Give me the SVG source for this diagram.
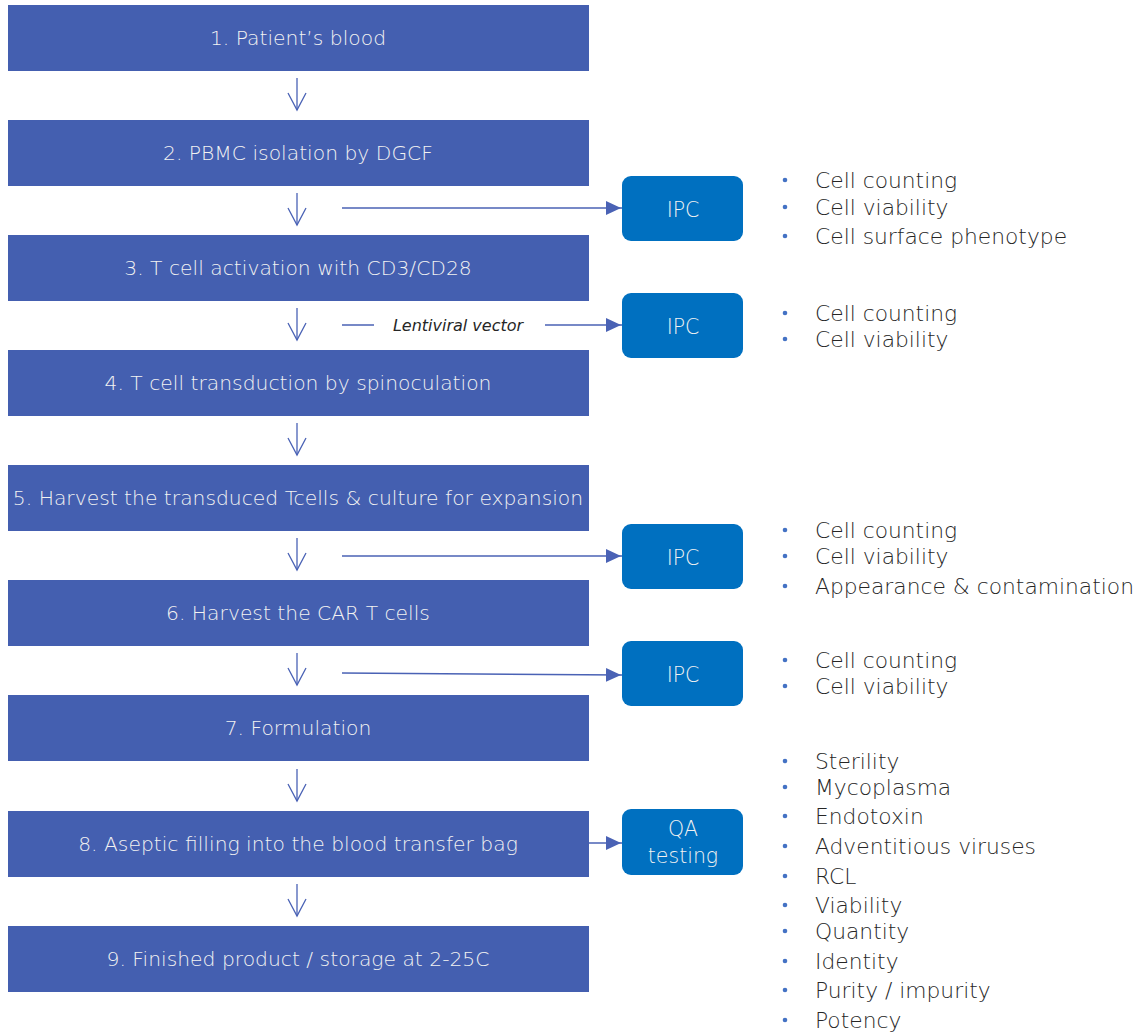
<svg xmlns="http://www.w3.org/2000/svg" width="1139" height="1032" viewBox="0 0 1139 1032">
<defs>
<marker id="open" viewBox="0 0 24 20" refX="20" refY="10" markerWidth="24" markerHeight="20" markerUnits="userSpaceOnUse" orient="auto">
<path d="M3,1 L20,10 L3,19" fill="none" stroke="#4A62B5" stroke-width="1.3"/>
</marker>
<marker id="tri" viewBox="0 0 16 16" refX="16" refY="8" markerWidth="16" markerHeight="16" markerUnits="userSpaceOnUse" orient="auto">
<path d="M0,1 L15,8 L0,15 Z" fill="#4A62B5"/>
</marker>
</defs>
<style>
.step{fill:#445FB0}
.steptxt{font-family:"DejaVu Sans",sans-serif;font-weight:200;font-size:20.3px;fill:#F2F2F2;text-anchor:middle;dominant-baseline:central}
.ipc{fill:#0070C0}
.ipctxt{font-family:"DejaVu Sans",sans-serif;font-weight:200;font-size:20.5px;fill:#F2F2F2;text-anchor:middle;dominant-baseline:central}
.conn{stroke:#4A62B5;stroke-width:1.5;fill:none}
.down{stroke:#4A62B5;stroke-width:1.3;fill:none}
.bul{fill:#4472C4}
.li{font-family:"DejaVu Sans",sans-serif;font-weight:200;font-size:21.8px;fill:#262626;dominant-baseline:central}
.lab{font-family:"DejaVu Sans",sans-serif;font-weight:200;font-size:16px;font-style:italic;fill:#262626;text-anchor:middle;dominant-baseline:central}
</style>
<g id="step1"><rect class="step" x="8" y="5" width="581" height="66"/><text class="steptxt" x="298" y="38">1. Patient’s blood</text></g>
<g id="step2"><rect class="step" x="8" y="120" width="581" height="66"/><text class="steptxt" x="298" y="153">2. PBMC isolation by DGCF</text></g>
<g id="step3"><rect class="step" x="8" y="235" width="581" height="66"/><text class="steptxt" x="298" y="268">3. T cell activation with CD3/CD28</text></g>
<g id="step4"><rect class="step" x="8" y="350" width="581" height="66"/><text class="steptxt" x="298" y="383">4. T cell transduction by spinoculation</text></g>
<g id="step5"><rect class="step" x="8" y="465" width="581" height="66"/><text class="steptxt" x="298" y="498">5. Harvest the transduced Tcells &amp; culture for expansion</text></g>
<g id="step6"><rect class="step" x="8" y="580" width="581" height="66"/><text class="steptxt" x="298" y="613">6. Harvest the CAR T cells</text></g>
<g id="step7"><rect class="step" x="8" y="695" width="581" height="66"/><text class="steptxt" x="298" y="728">7. Formulation</text></g>
<g id="step8"><rect class="step" x="8" y="811" width="581" height="66"/><text class="steptxt" x="298" y="844">8. Aseptic filling into the blood transfer bag</text></g>
<g id="step9"><rect class="step" x="8" y="926" width="581" height="66"/><text class="steptxt" x="298" y="959">9. Finished product / storage at 2-25C</text></g>

<g id="ipc1"><rect class="ipc" x="622" y="176" width="121" height="65" rx="9"/><text class="ipctxt" x="683" y="210">IPC</text></g>
<g id="ipc2"><rect class="ipc" x="622" y="293" width="121" height="65" rx="9"/><text class="ipctxt" x="683" y="327">IPC</text></g>
<g id="ipc3"><rect class="ipc" x="622" y="524" width="121" height="65" rx="9"/><text class="ipctxt" x="683" y="558">IPC</text></g>
<g id="ipc4"><rect class="ipc" x="622" y="641" width="121" height="65" rx="9"/><text class="ipctxt" x="683" y="675">IPC</text></g>
<g id="qa"><rect class="ipc" x="622" y="809" width="121" height="66" rx="9"/><text class="ipctxt" x="683" y="829">QA</text><text class="ipctxt" x="683" y="856">testing</text></g>

<g id="connectors">
<line class="down" x1="297" y1="78" x2="297" y2="110" marker-end="url(#open)"/>
<line class="down" x1="297" y1="193" x2="297" y2="225" marker-end="url(#open)"/>
<line class="down" x1="297" y1="308" x2="297" y2="340" marker-end="url(#open)"/>
<line class="down" x1="297" y1="423" x2="297" y2="455" marker-end="url(#open)"/>
<line class="down" x1="297" y1="538" x2="297" y2="570" marker-end="url(#open)"/>
<line class="down" x1="297" y1="653" x2="297" y2="685" marker-end="url(#open)"/>
<line class="down" x1="297" y1="769" x2="297" y2="801" marker-end="url(#open)"/>
<line class="down" x1="297" y1="884" x2="297" y2="916" marker-end="url(#open)"/>
<line class="conn" x1="342" y1="208" x2="622" y2="208" marker-end="url(#tri)"/>
<line class="conn" x1="342" y1="325" x2="374" y2="325"/>
<line class="conn" x1="545" y1="325" x2="622" y2="325" marker-end="url(#tri)"/>
<text class="lab" x="458" y="325">Lentiviral vector</text>
<line class="conn" x1="342" y1="556" x2="622" y2="556" marker-end="url(#tri)"/>
<line class="conn" x1="342" y1="673" x2="622" y2="675" marker-end="url(#tri)"/>
<line class="conn" x1="589" y1="843" x2="622" y2="843" marker-end="url(#tri)"/>
</g>

<g id="list1">
<circle class="bul" cx="785" cy="180" r="2.3"/><text class="li" x="815" y="180">Cell counting</text>
<circle class="bul" cx="785" cy="207" r="2.3"/><text class="li" x="815" y="207">Cell viability</text>
<circle class="bul" cx="785" cy="236" r="2.3"/><text class="li" x="815" y="236">Cell surface phenotype</text>
</g>
<g id="list2">
<circle class="bul" cx="785" cy="313" r="2.3"/><text class="li" x="815" y="313">Cell counting</text>
<circle class="bul" cx="785" cy="339" r="2.3"/><text class="li" x="815" y="339">Cell viability</text>
</g>
<g id="list3">
<circle class="bul" cx="785" cy="530" r="2.3"/><text class="li" x="815" y="530">Cell counting</text>
<circle class="bul" cx="785" cy="556" r="2.3"/><text class="li" x="815" y="556">Cell viability</text>
<circle class="bul" cx="785" cy="586" r="2.3"/><text class="li" x="815" y="586">Appearance &amp; contamination</text>
</g>
<g id="list4">
<circle class="bul" cx="785" cy="660" r="2.3"/><text class="li" x="815" y="660">Cell counting</text>
<circle class="bul" cx="785" cy="686" r="2.3"/><text class="li" x="815" y="686">Cell viability</text>
</g>
<g id="list5">
<circle class="bul" cx="785" cy="761" r="2.3"/><text class="li" x="815" y="761">Sterility</text>
<circle class="bul" cx="785" cy="787" r="2.3"/><text class="li" x="815" y="787">Mycoplasma</text>
<circle class="bul" cx="785" cy="816" r="2.3"/><text class="li" x="815" y="816">Endotoxin</text>
<circle class="bul" cx="785" cy="846" r="2.3"/><text class="li" x="815" y="846">Adventitious viruses</text>
<circle class="bul" cx="785" cy="876" r="2.3"/><text class="li" x="815" y="876">RCL</text>
<circle class="bul" cx="785" cy="905" r="2.3"/><text class="li" x="815" y="905">Viability</text>
<circle class="bul" cx="785" cy="931" r="2.3"/><text class="li" x="815" y="931">Quantity</text>
<circle class="bul" cx="785" cy="961" r="2.3"/><text class="li" x="815" y="961">Identity</text>
<circle class="bul" cx="785" cy="990" r="2.3"/><text class="li" x="815" y="990">Purity / impurity</text>
<circle class="bul" cx="785" cy="1020" r="2.3"/><text class="li" x="815" y="1020">Potency</text>
</g>
</svg>
